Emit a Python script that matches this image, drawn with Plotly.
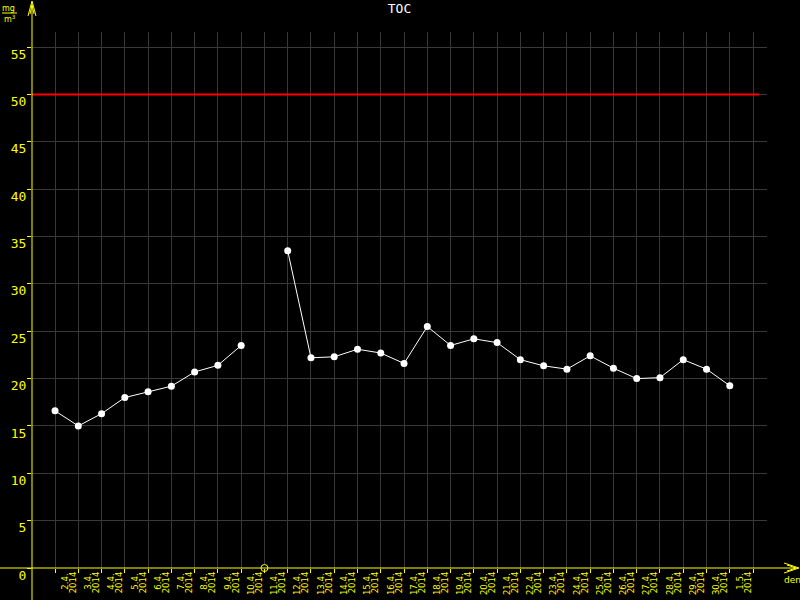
import plotly.graph_objects as go

# TOC daily values, April 2014
dates = ['2.4.', '3.4.', '4.4.', '5.4.', '6.4.', '7.4.', '8.4.', '9.4.', '10.4.', '11.4.',
         '12.4.', '13.4.', '14.4.', '15.4.', '16.4.', '17.4.', '18.4.', '19.4.', '20.4.', '21.4.',
         '22.4.', '23.4.', '24.4.', '25.4.', '26.4.', '27.4.', '28.4.', '29.4.', '30.4.', '1.5.']
year = '2014'
toc = [16.6, 15.0, 16.3, 18.0, 18.6, 19.2, 20.7, 21.4, 23.5, None,
       33.5, 22.2, 22.3, 23.1, 22.7, 21.6, 25.5, 23.5, 24.2, 23.8,
       22.0, 21.35, 21.0, 22.4, 21.1, 20.0, 20.1, 22.0, 21.0, 19.25]
limit = 50
y_ticks = list(range(0, 60, 5))

YELLOW = '#ffff00'
GRID = '#383838'

# plot area in pixels
L, R, T, B = 32, 33, 32, 32
W, H = 800 - L - R, 600 - T - B


def px(x):
    return (x - L) / W


def py(y):
    return (600 - B - y) / H


idx = list(range(len(dates)))
tickvals = idx + [len(dates)]
date_text = dates + ['']
year_text = [year] * len(dates) + ['']
missing = [i for i, v in zip(idx, toc) if v is None]

data = [
    go.Scatter(x=idx, y=toc, mode='lines+markers', connectgaps=False,
               line={'color': 'white', 'width': 1},
               marker={'color': 'white', 'size': 7}),
    go.Scatter(x=missing, y=[0] * len(missing), mode='markers', cliponaxis=False,
               marker={'color': 'black', 'size': 7, 'symbol': 'circle',
                       'line': {'color': YELLOW, 'width': 1}}),
    # carrier so the year axis gets drawn
    go.Scatter(x=idx, y=toc, xaxis='x2', mode='none', hoverinfo='skip'),
]

xfont = {'family': 'DejaVu Sans, sans-serif', 'size': 8.5, 'color': YELLOW}
small = {'family': 'DejaVu Sans', 'size': 8, 'color': YELLOW}

layout = go.Layout(
    width=800, height=600,
    margin={'l': L, 'r': R, 't': T, 'b': B},
    paper_bgcolor='black', plot_bgcolor='black',
    showlegend=False,
    title={'text': 'TOC', 'x': 0.5, 'xref': 'paper', 'y': 1 - 8 / 600, 'yanchor': 'middle',
           'font': {'family': 'DejaVu Sans Mono', 'size': 13, 'color': 'white'}},
    xaxis={'range': [-0.99, 30.6], 'tickvals': tickvals, 'ticktext': date_text,
           'tickangle': -90, 'tickfont': xfont, 'ticks': 'outside', 'ticklen': 4,
           'tickcolor': YELLOW, 'showgrid': True, 'gridcolor': GRID, 'gridwidth': 1,
           'zeroline': False, 'showline': False, 'ticklabelshift': 10,
           'ticklabelstandoff': -3, 'automargin': False},
    xaxis2={'overlaying': 'x', 'matches': 'x', 'anchor': 'y', 'side': 'bottom',
            'tickvals': tickvals, 'ticktext': year_text, 'tickangle': -90,
            'tickfont': xfont, 'ticks': '', 'showgrid': False, 'zeroline': False,
            'ticklabelshift': 18, 'ticklabelstandoff': 1, 'automargin': False},
    yaxis={'range': [0, 56.6], 'tickvals': y_ticks, 'ticks': 'outside', 'ticklen': 4,
           'tickcolor': YELLOW, 'showgrid': True, 'gridcolor': GRID, 'zeroline': False,
           'showline': False, 'ticklabelshift': 7, 'ticklabelstandoff': -2,
           'automargin': False,
           'tickfont': {'family': 'DejaVu Sans Mono', 'size': 13, 'color': YELLOW}},
    shapes=[
        # limit line
        {'type': 'line', 'xref': 'paper', 'x0': 0, 'x1': px(759), 'yref': 'y',
         'y0': limit, 'y1': limit, 'line': {'color': '#ff0000', 'width': 2}},
        # axes crossing through the whole picture
        {'type': 'line', 'xref': 'paper', 'yref': 'paper', 'x0': 0, 'x1': 0,
         'y0': py(600), 'y1': py(2), 'line': {'color': YELLOW, 'width': 1}},
        {'type': 'line', 'xref': 'paper', 'yref': 'paper', 'x0': px(0), 'x1': px(798),
         'y0': 0, 'y1': 0, 'line': {'color': YELLOW, 'width': 1}},
        # arrow heads
        {'type': 'path', 'xref': 'paper', 'yref': 'paper',
         'path': f'M {px(28)} {py(16)} L {px(32)} {py(1)} L {px(36)} {py(16)} '
                 f'M {px(30)} {py(14)} L {px(32)} {py(5)} L {px(34)} {py(14)}',
         'line': {'color': YELLOW, 'width': 1}},
        {'type': 'path', 'xref': 'paper', 'yref': 'paper',
         'path': f'M {px(784)} {py(563)} L {px(799)} {py(568)} L {px(784)} {py(573)} '
                 f'M {px(787)} {py(565)} L {px(796)} {py(568)} L {px(787)} {py(571)}',
         'line': {'color': YELLOW, 'width': 1}},
        # unit fraction bar
        {'type': 'line', 'xref': 'paper', 'yref': 'paper', 'x0': px(2), 'x1': px(17),
         'y0': py(13), 'y1': py(13), 'line': {'color': YELLOW, 'width': 1}},
    ],
    annotations=[
        {'text': 'mg', 'xref': 'paper', 'yref': 'paper', 'x': px(9), 'y': py(8),
         'xanchor': 'center', 'yanchor': 'middle', 'showarrow': False, 'font': small},
        {'text': 'm<sup>3</sup>', 'xref': 'paper', 'yref': 'paper', 'x': px(10), 'y': py(19),
         'xanchor': 'center', 'yanchor': 'middle', 'showarrow': False, 'font': small},
        {'text': 'den', 'xref': 'paper', 'yref': 'paper', 'x': px(792), 'y': py(580),
         'xanchor': 'center', 'yanchor': 'middle', 'showarrow': False,
         'font': {'family': 'DejaVu Sans', 'size': 9, 'color': YELLOW}},
    ],
)

fig = go.Figure(data=data, layout=layout)
fig.write_html('out.html', config={'displayModeBar': False},
               post_script="document.body.style.margin='0';")
